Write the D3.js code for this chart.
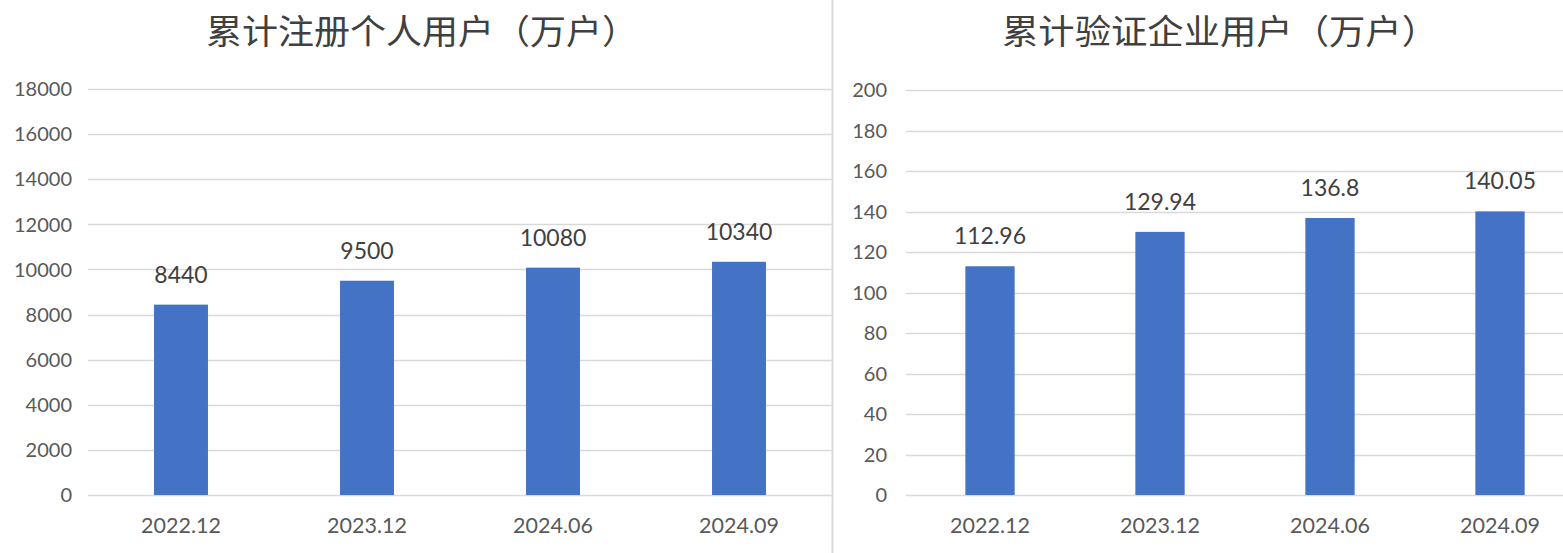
<!DOCTYPE html>
<html><head><meta charset="utf-8">
<script src="https://cdn.jsdelivr.net/npm/d3@7"></script>
<style>html,body{margin:0;padding:0;background:#fff;}svg{display:block;}</style>
</head><body>
<svg id="c" width="1563" height="553"></svg>
<script>
const categories = ["2022.12", "2023.12", "2024.06", "2024.09"];
const personalUsers = [8440, 9500, 10080, 10340];
const personalLabels = ["8440", "9500", "10080", "10340"];
const enterpriseUsers = [112.96, 129.94, 136.8, 140.05];
const enterpriseLabels = ["112.96", "129.94", "136.8", "140.05"];
const personalTicks = [0, 2000, 4000, 6000, 8000, 10000, 12000, 14000, 16000, 18000];
const enterpriseTicks = [0, 20, 40, 60, 80, 100, 120, 140, 160, 180, 200];
const titles = ["累计注册个人用户（万户）", "累计验证企业用户（万户）"];

const svg = d3.select("#c");
const grid = "#d9d9d9", txt = "#595959", dark = "#404040", bar = "#4472c4";
const numFont = "Lato, 'Open Sans', sans-serif";

function panel(cfg) {
  const g = svg.append("g");
  const y = d3.scaleLinear().domain(cfg.domain).range([495, cfg.top]);
  const x = d3.scaleBand().domain(categories).range(cfg.xr).paddingInner(0.71).paddingOuter(0.355);
  g.selectAll("line.grid").data(cfg.ticks).join("line")
    .attr("x1", cfg.gx[0]).attr("x2", cfg.gx[1])
    .attr("y1", d => Math.round(y(d)) + 0.5).attr("y2", d => Math.round(y(d)) + 0.5)
    .attr("stroke", grid).attr("stroke-width", 1.5);
  g.selectAll("text.tick").data(cfg.ticks).join("text")
    .attr("x", cfg.tickX).attr("y", d => y(d)).attr("dy", "0.36em")
    .attr("text-anchor", "end").attr("fill", txt)
    .style("font-family", numFont).style("font-size", "20px").text(d => d);
  g.selectAll("rect").data(cfg.values).join("rect")
    .attr("x", (d, i) => x(categories[i])).attr("width", x.bandwidth())
    .attr("y", d => y(d)).attr("height", d => y(0) - y(d)).attr("fill", bar);
  g.selectAll("text.val").data(cfg.values).join("text")
    .attr("x", (d, i) => x(categories[i]) + x.bandwidth() / 2)
    .attr("y", d => y(d) - 22).attr("text-anchor", "middle").attr("fill", dark)
    .style("font-family", numFont).style("font-size", "23px")
    .text((d, i) => cfg.labels[i]);
  g.selectAll("text.cat").data(categories).join("text")
    .attr("x", d => x(d) + x.bandwidth() / 2).attr("y", 533)
    .attr("text-anchor", "middle").attr("fill", txt)
    .style("font-family", numFont).style("font-size", "21.5px").text(d => d);
  g.append("text").attr("x", cfg.titleX).attr("y", 44).attr("text-anchor", "middle")
    .attr("fill", dark).attr("textLength", cfg.titleW).attr("lengthAdjust", "spacingAndGlyphs")
    .style("font-family", "'Noto Sans CJK SC', sans-serif").style("font-size", "34px")
    .text(cfg.title);
}

panel({domain: [0, 18000], top: 89, xr: [88, 832], gx: [88, 832], ticks: personalTicks,
  tickX: 72, values: personalUsers, labels: personalLabels, title: titles[0], titleX: 422, titleW: 432});
panel({domain: [0, 200], top: 90, xr: [905, 1585], gx: [906, 1563], ticks: enterpriseTicks,
  tickX: 887, values: enterpriseUsers, labels: enterpriseLabels, title: titles[1], titleX: 1220, titleW: 436});

svg.append("line").attr("x1", 832.5).attr("x2", 832.5).attr("y1", 0).attr("y2", 553)
  .attr("stroke", grid).attr("stroke-width", 2);
</script>
</body></html>
